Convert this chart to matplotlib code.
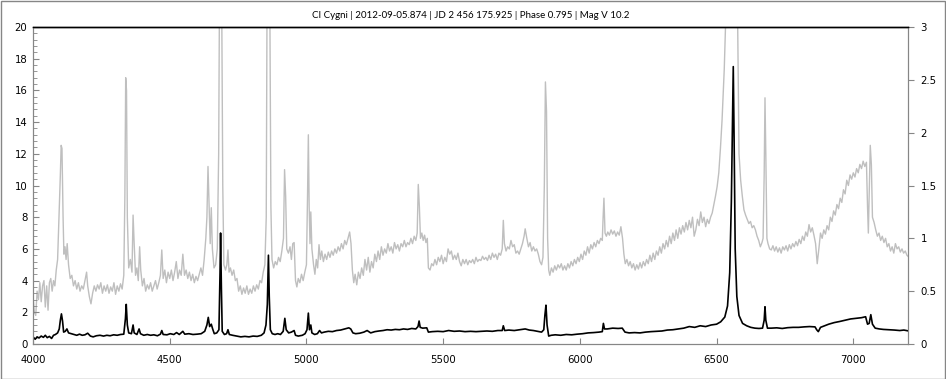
#!/usr/bin/env python3

import matplotlib
matplotlib.use("Agg")
import matplotlib.pyplot as plt
from matplotlib.patches import Rectangle
from matplotlib.ticker import MultipleLocator, FuncFormatter

title = "CI Cygni | 2012-09-05.874 | JD 2 456 175.925 | Phase 0.795 | Mag V 10.2"

# Black spectrum (left axis)
black_wave = [
    4000, 4008, 4015, 4022, 4030, 4038, 4045, 4052, 4060, 4068, 4075, 4082, 4090, 4096,
    4100, 4104, 4108, 4112, 4118, 4124, 4130, 4140, 4150, 4160, 4170, 4180, 4190, 4200,
    4210, 4220, 4232, 4245, 4258, 4270, 4282, 4295, 4308, 4320, 4332, 4338, 4341, 4345,
    4350, 4360, 4366, 4370, 4380, 4388, 4393, 4405, 4418, 4430, 4442, 4455, 4466, 4471,
    4476, 4490, 4502, 4515, 4525, 4535, 4548, 4555, 4570, 4585, 4600, 4615, 4628, 4636,
    4641, 4646, 4652, 4657, 4663, 4672, 4680, 4684, 4686, 4689, 4692, 4700, 4708, 4713,
    4718, 4730, 4745, 4760, 4775, 4790, 4805, 4820, 4835, 4845, 4852, 4857, 4861, 4864,
    4868, 4875, 4885, 4895, 4905, 4915, 4921, 4926, 4935, 4945, 4955, 4960, 4970, 4985,
    4995, 5002, 5007, 5011, 5016, 5020, 5030, 5040, 5048, 5055, 5065, 5080, 5095, 5110,
    5125, 5140, 5155, 5162, 5170, 5180, 5195, 5210, 5222, 5235, 5250, 5265, 5280, 5295,
    5310, 5325, 5340, 5355, 5370, 5385, 5400, 5408, 5412, 5416, 5425, 5440, 5446, 5460,
    5480, 5500, 5520, 5540, 5560, 5580, 5600, 5620, 5640, 5660, 5680, 5700, 5716, 5720,
    5725, 5740, 5760, 5780, 5800, 5815, 5830, 5845, 5860, 5868, 5872, 5876, 5880, 5886,
    5895, 5910, 5930, 5950, 5970, 5990, 6010, 6030, 6050, 6070, 6082, 6086, 6090, 6100,
    6120, 6140, 6155, 6165, 6180, 6200, 6220, 6240, 6260, 6280, 6300, 6320, 6340, 6360,
    6380, 6400, 6420, 6440, 6460, 6480, 6500, 6515, 6530, 6540, 6548, 6554, 6558, 6561,
    6564, 6568, 6574, 6582, 6595, 6610, 6625, 6640, 6655, 6668, 6674, 6677, 6680, 6686,
    6700, 6720, 6740, 6760, 6780, 6800, 6820, 6840, 6860, 6866, 6872, 6880, 6895, 6910,
    6930, 6950, 6970, 6990, 7010, 7030, 7045, 7052, 7058, 7064, 7070, 7080, 7095, 7110,
    7130, 7150, 7170, 7185, 7200,
]
black_flux = [
    0.45, 0.30, 0.45, 0.38, 0.50, 0.42, 0.55, 0.40, 0.48, 0.35, 0.55, 0.60, 0.70, 0.95,
    1.50, 1.90, 1.45, 0.75, 0.80, 0.95, 0.70, 0.65, 0.60, 0.55, 0.62, 0.55, 0.58, 0.68,
    0.50, 0.45, 0.52, 0.55, 0.50, 0.55, 0.52, 0.58, 0.55, 0.60, 0.62, 1.60, 2.50, 1.20,
    0.70, 0.65, 1.20, 0.70, 0.60, 0.95, 0.65, 0.55, 0.60, 0.55, 0.58, 0.52, 0.62, 0.85,
    0.60, 0.58, 0.65, 0.60, 0.72, 0.60, 0.80, 0.62, 0.65, 0.60, 0.62, 0.65, 0.80, 1.20,
    1.68, 1.10, 1.25, 0.95, 0.65, 0.70, 0.90, 4.50, 7.00, 3.50, 0.80, 0.60, 0.65, 0.90,
    0.60, 0.55, 0.50, 0.45, 0.48, 0.45, 0.50, 0.48, 0.55, 0.70, 1.20, 2.50, 5.60, 3.00,
    0.90, 0.65, 0.60, 0.65, 0.60, 0.80, 1.62, 0.90, 0.70, 0.75, 0.85, 0.55, 0.50, 0.55,
    0.65, 0.90, 1.95, 0.90, 1.20, 0.70, 0.60, 0.65, 0.85, 0.70, 0.75, 0.80, 0.78, 0.85,
    0.88, 0.95, 1.02, 0.95, 0.70, 0.65, 0.68, 0.75, 0.85, 0.70, 0.78, 0.82, 0.85, 0.90,
    0.88, 0.92, 0.90, 0.95, 0.92, 0.98, 0.95, 1.10, 1.45, 1.05, 1.00, 1.02, 0.75, 0.78,
    0.80, 0.78, 0.85, 0.80, 0.82, 0.78, 0.80, 0.78, 0.80, 0.82, 0.80, 0.85, 0.85, 1.15,
    0.85, 0.88, 0.85, 0.90, 0.95, 0.88, 0.85, 0.80, 0.75, 0.90, 1.80, 2.45, 1.20, 0.50,
    0.55, 0.58, 0.55, 0.60, 0.58, 0.62, 0.65, 0.70, 0.72, 0.75, 0.78, 1.30, 0.95, 0.95,
    1.00, 0.98, 1.00, 0.75, 0.70, 0.72, 0.70, 0.75, 0.78, 0.80, 0.82, 0.88, 0.90, 0.95,
    1.00, 1.10, 1.05, 1.15, 1.10, 1.20, 1.25, 1.40, 1.70, 2.40, 4.50, 9.00, 14.0, 17.5,
    13.0, 6.00, 3.00, 1.80, 1.30, 1.15, 1.05, 1.00, 0.98, 1.00, 1.50, 2.35, 1.50, 1.00,
    1.00, 1.02, 0.98, 1.03, 1.05, 1.05, 1.08, 1.10, 1.08, 0.90, 0.78, 1.05, 1.15, 1.25,
    1.35, 1.42, 1.50, 1.58, 1.62, 1.66, 1.72, 1.25, 1.30, 1.85, 1.25, 1.00, 0.95, 0.92,
    0.90, 0.88, 0.85, 0.88, 0.83,
]

# Grey spectrum (right axis)
grey_wave = [
    4000, 4005, 4010, 4015, 4020, 4025, 4030, 4035, 4040, 4045, 4050, 4055, 4060, 4065,
    4070, 4075, 4080, 4085, 4090, 4095, 4100, 4103, 4106, 4110, 4113, 4117, 4121, 4125,
    4130, 4136, 4142, 4148, 4154, 4160, 4166, 4172, 4178, 4184, 4190, 4196, 4200, 4206,
    4212, 4218, 4224, 4230, 4236, 4242, 4248, 4254, 4260, 4266, 4272, 4278, 4284, 4290,
    4296, 4302, 4308, 4314, 4320, 4326, 4332, 4336, 4339, 4342, 4345, 4350, 4356, 4362,
    4366, 4370, 4375, 4380, 4385, 4390, 4394, 4400, 4406, 4412, 4418, 4424, 4430, 4436,
    4442, 4448, 4454, 4460, 4466, 4471, 4476, 4482, 4488, 4494, 4500, 4506, 4512, 4518,
    4524, 4530, 4536, 4542, 4548, 4554, 4560, 4566, 4572, 4578, 4584, 4590, 4596, 4602,
    4608, 4614, 4620, 4626, 4632, 4636, 4640, 4644, 4648, 4652, 4656, 4662, 4668, 4674,
    4679, 4682, 4690, 4694, 4698, 4704, 4709, 4713, 4717, 4722, 4728, 4734, 4740, 4746,
    4752, 4758, 4764, 4770, 4776, 4782, 4788, 4794, 4800, 4806, 4812, 4818, 4824, 4830,
    4836, 4842, 4848, 4853, 4856, 4866, 4870, 4874, 4880, 4886, 4892, 4898, 4904, 4910,
    4916, 4920, 4924, 4928, 4934, 4940, 4945, 4950, 4955, 4960, 4965, 4970, 4976, 4982,
    4988, 4994, 5000, 5004, 5007, 5010, 5013, 5016, 5020, 5026, 5031, 5036, 5041, 5046,
    5051, 5056, 5062, 5068, 5074, 5080, 5086, 5092, 5098, 5104, 5110, 5116, 5122, 5128,
    5134, 5140, 5146, 5152, 5158, 5163, 5168, 5173, 5178, 5184, 5190, 5196, 5202, 5208,
    5214, 5220, 5226, 5232, 5238, 5244, 5250, 5256, 5262, 5268, 5274, 5280, 5286, 5292,
    5298, 5304, 5310, 5316, 5322, 5328, 5334, 5340, 5346, 5352, 5358, 5364, 5370, 5376,
    5382, 5388, 5394, 5400, 5405, 5409, 5413, 5417, 5422, 5427, 5432, 5437, 5442, 5446,
    5452, 5458, 5464, 5470, 5476, 5482, 5488, 5494, 5500, 5506, 5512, 5518, 5524, 5530,
    5536, 5542, 5548, 5554, 5560, 5566, 5572, 5578, 5584, 5590, 5596, 5602, 5608, 5614,
    5620, 5626, 5632, 5638, 5644, 5650, 5656, 5662, 5668, 5674, 5680, 5686, 5692, 5698,
    5704, 5710, 5716, 5720, 5724, 5730, 5736, 5742, 5748, 5754, 5760, 5766, 5772, 5778,
    5784, 5790, 5796, 5800, 5806, 5812, 5818, 5824, 5830, 5836, 5842, 5848, 5854, 5860,
    5865, 5870, 5874, 5878, 5882, 5886, 5890, 5896, 5902, 5908, 5914, 5920, 5926, 5932,
    5938, 5944, 5950, 5956, 5962, 5968, 5974, 5980, 5986, 5992, 5998, 6004, 6010, 6016,
    6022, 6028, 6034, 6040, 6046, 6052, 6058, 6064, 6070, 6076, 6082, 6085, 6088, 6092,
    6097, 6102, 6108, 6114, 6120, 6126, 6132, 6138, 6144, 6150, 6156, 6161, 6166, 6172,
    6178, 6184, 6190, 6196, 6202, 6208, 6214, 6220, 6226, 6232, 6238, 6244, 6250, 6256,
    6262, 6268, 6274, 6280, 6286, 6292, 6298, 6304, 6310, 6316, 6322, 6328, 6334, 6340,
    6346, 6352, 6358, 6364, 6370, 6376, 6382, 6388, 6394, 6400, 6406, 6412, 6418, 6424,
    6430, 6436, 6442, 6448, 6454, 6460, 6466, 6472, 6478, 6484, 6490, 6496, 6502, 6508,
    6514, 6520, 6528, 6536, 6576, 6582, 6588, 6594, 6600, 6606, 6612, 6618, 6624, 6630,
    6636, 6642, 6648, 6654, 6660, 6666, 6670, 6674, 6677, 6680, 6684, 6688, 6694, 6700,
    6706, 6712, 6718, 6724, 6730, 6736, 6742, 6748, 6754, 6760, 6766, 6772, 6778, 6784,
    6790, 6796, 6802, 6808, 6814, 6820, 6826, 6832, 6838, 6844, 6850, 6856, 6862, 6868,
    6874, 6880, 6886, 6892, 6898, 6904, 6910, 6916, 6922, 6928, 6934, 6940, 6946, 6952,
    6958, 6964, 6970, 6976, 6982, 6988, 6994, 7000, 7006, 7012, 7018, 7024, 7030, 7036,
    7042, 7048, 7052, 7055, 7058, 7062, 7066, 7070, 7076, 7082, 7088, 7094, 7100, 7106,
    7112, 7118, 7124, 7130, 7136, 7142, 7148, 7154, 7160, 7166, 7172, 7178, 7184, 7190,
    7196, 7200,
]
grey_flux = [
    0.45, 0.30, 0.27, 0.50, 0.42, 0.58, 0.40, 0.55, 0.60, 0.35, 0.55, 0.32, 0.58, 0.62,
    0.50, 0.60, 0.55, 0.70, 0.80, 1.20, 1.60, 1.88, 1.85, 1.20, 0.85, 0.92, 0.80, 0.95,
    0.75, 0.62, 0.65, 0.55, 0.60, 0.52, 0.58, 0.50, 0.55, 0.52, 0.60, 0.68, 0.55, 0.45,
    0.38, 0.48, 0.55, 0.50, 0.56, 0.52, 0.58, 0.48, 0.55, 0.50, 0.56, 0.48, 0.54, 0.50,
    0.58, 0.47, 0.55, 0.50, 0.57, 0.52, 0.65, 1.40, 2.52, 2.40, 1.20, 0.72, 0.80, 0.68,
    1.22, 0.95, 0.65, 0.72, 0.60, 0.92, 0.70, 0.55, 0.62, 0.50, 0.56, 0.52, 0.58, 0.50,
    0.55, 0.60, 0.52, 0.58, 0.65, 0.89, 0.62, 0.70, 0.58, 0.68, 0.62, 0.70, 0.60, 0.68,
    0.78, 0.62, 0.70, 0.65, 0.85, 0.65, 0.70, 0.62, 0.68, 0.60, 0.66, 0.58, 0.64, 0.60,
    0.66, 0.72, 0.65, 0.80, 1.00, 1.20, 1.68, 1.30, 0.95, 1.29, 0.90, 0.72, 0.75, 0.90,
    1.80, 3.30, 3.30, 1.50, 0.75, 0.70, 0.75, 0.89, 0.68, 0.72, 0.65, 0.70, 0.60, 0.62,
    0.50, 0.55, 0.47, 0.53, 0.48, 0.55, 0.47, 0.52, 0.48, 0.55, 0.50, 0.56, 0.52, 0.60,
    0.58, 0.68, 0.75, 1.20, 3.30, 3.30, 1.30, 0.80, 0.72, 0.78, 0.75, 0.82, 0.78, 0.88,
    1.00, 1.65, 1.40, 0.90, 0.86, 0.92, 0.80, 0.95, 0.96, 0.60, 0.54, 0.62, 0.58, 0.66,
    0.60, 0.68, 0.75, 1.40, 1.98, 1.30, 0.95, 1.25, 0.90, 0.75, 0.66, 0.80, 0.72, 0.94,
    0.80, 0.88, 0.78, 0.85, 0.80, 0.87, 0.82, 0.88, 0.84, 0.90, 0.86, 0.92, 0.88, 0.95,
    0.90, 0.98, 0.94, 1.00, 1.06, 0.95, 0.70, 0.58, 0.66, 0.56, 0.68, 0.62, 0.72, 0.65,
    0.80, 0.70, 0.82, 0.68, 0.78, 0.72, 0.85, 0.78, 0.88, 0.80, 0.92, 0.84, 0.90, 0.86,
    0.95, 0.88, 0.92, 0.86, 0.96, 0.90, 0.94, 0.88, 0.95, 0.92, 0.98, 0.92, 0.96, 0.94,
    1.00, 0.95, 1.02, 0.98, 1.05, 1.51, 1.30, 1.00, 1.05, 0.98, 1.03, 0.96, 1.00, 0.72,
    0.70, 0.76, 0.74, 0.80, 0.75, 0.82, 0.78, 0.84, 0.76, 0.82, 0.78, 0.90, 0.85, 0.88,
    0.80, 0.84, 0.80, 0.86, 0.78, 0.74, 0.80, 0.76, 0.80, 0.75, 0.79, 0.77, 0.80, 0.76,
    0.82, 0.78, 0.80, 0.79, 0.83, 0.80, 0.82, 0.79, 0.84, 0.80, 0.86, 0.82, 0.85, 0.80,
    0.86, 0.84, 0.90, 1.17, 0.95, 0.88, 0.92, 0.90, 0.98, 0.92, 0.94, 0.86, 0.88, 0.85,
    0.90, 0.95, 1.02, 1.09, 1.00, 0.92, 0.96, 0.88, 0.92, 0.88, 0.90, 0.85, 0.78, 0.75,
    0.82, 1.50, 2.48, 2.20, 1.00, 0.70, 0.65, 0.72, 0.68, 0.74, 0.70, 0.75, 0.72, 0.76,
    0.70, 0.74, 0.70, 0.76, 0.72, 0.78, 0.74, 0.80, 0.76, 0.82, 0.78, 0.85, 0.80, 0.88,
    0.84, 0.92, 0.86, 0.94, 0.90, 0.96, 0.92, 0.98, 0.95, 1.00, 0.98, 1.20, 1.38, 1.05,
    1.02, 1.06, 1.03, 1.08, 1.04, 1.07, 1.02, 1.06, 1.03, 1.11, 1.00, 0.85, 0.76, 0.80,
    0.74, 0.78, 0.72, 0.76, 0.70, 0.75, 0.71, 0.77, 0.72, 0.78, 0.74, 0.80, 0.76, 0.84,
    0.78, 0.86, 0.80, 0.88, 0.84, 0.92, 0.86, 0.95, 0.90, 0.98, 0.92, 1.02, 0.95, 1.05,
    0.98, 1.08, 1.00, 1.10, 1.04, 1.12, 1.06, 1.15, 1.08, 1.17, 1.10, 1.20, 1.02, 1.08,
    1.18, 1.12, 1.25, 1.15, 1.20, 1.11, 1.18, 1.14, 1.20, 1.24, 1.32, 1.40, 1.49, 1.62,
    1.85, 2.12, 2.60, 3.30, 3.30, 1.80, 1.55, 1.40, 1.27, 1.22, 1.18, 1.14, 1.16, 1.10,
    1.12, 1.08, 1.02, 0.98, 0.92, 0.96, 1.00, 1.60, 2.33, 1.80, 1.00, 0.95, 0.90, 0.89,
    0.93, 0.88, 0.92, 0.87, 0.91, 0.86, 0.92, 0.89, 0.93, 0.88, 0.94, 0.90, 0.95, 0.92,
    0.97, 0.93, 0.99, 0.95, 1.02, 0.98, 1.06, 1.02, 1.13, 1.06, 1.10, 1.03, 0.95, 0.76,
    0.90, 1.05, 1.00, 1.08, 1.04, 1.12, 1.08, 1.20, 1.16, 1.26, 1.22, 1.32, 1.28, 1.38,
    1.34, 1.46, 1.42, 1.55, 1.50, 1.60, 1.56, 1.62, 1.58, 1.66, 1.62, 1.70, 1.66, 1.73,
    1.68, 1.72, 1.30, 1.05, 1.40, 1.88, 1.70, 1.20, 1.15, 1.08, 1.02, 1.05, 0.98, 1.02,
    0.96, 1.00, 0.92, 0.95, 0.88, 0.92, 0.86, 0.95, 0.90, 0.92, 0.87, 0.90, 0.86, 0.88,
    0.84, 0.83,
]

axis_grey = "#868686"

fig = plt.figure(figsize=(9.46, 3.79), dpi=100)
ax = fig.add_axes([33 / 946, 35 / 379, 875 / 946, 317 / 379])
ax2 = ax.twinx()

ax2.plot(grey_wave, grey_flux, color="#BFBFBF", lw=1.0)
ax.plot(black_wave, black_flux, color="black", lw=1.2)

# keep the black line above the grey one
ax.set_zorder(ax2.get_zorder() + 1)
ax.patch.set_visible(False)

ax.set_xlim(4000, 7200)
ax.set_ylim(0, 20)
ax2.set_ylim(0, 3)

ax.xaxis.set_major_locator(MultipleLocator(500))
ax.yaxis.set_major_locator(MultipleLocator(2))
ax.yaxis.set_minor_locator(MultipleLocator(0.4))
ax2.yaxis.set_major_locator(MultipleLocator(0.5))
ax2.yaxis.set_major_formatter(FuncFormatter(lambda v, pos: f"{v:g}"))

for a in (ax, ax2):
    for side in ("left", "right", "bottom"):
        a.spines[side].set_color(axis_grey)
    a.spines["top"].set_color("black")
    a.spines["top"].set_linewidth(1.0)

ax.tick_params(axis="x", direction="in", length=4, color=axis_grey,
               labelsize=7.3, pad=8, top=False)
ax.tick_params(axis="y", which="major", direction="in", length=4, color=axis_grey,
               labelsize=7.3, pad=4)
ax.tick_params(axis="y", which="minor", direction="in", length=3, color=axis_grey)
ax2.tick_params(axis="y", direction="out", length=4, color=axis_grey,
                labelsize=7.3, pad=5)

fig.text(470.5 / 946, 1 - 16 / 379, title, ha="center", va="center",
         fontsize=7, family=["Lato", "DejaVu Sans"])

# outer border of the chart
fig.patches.append(Rectangle((0.5 / 946, 0.5 / 379), 944.5 / 946, 377.5 / 379,
                             transform=fig.transFigure, fill=False,
                             edgecolor=axis_grey, lw=1.0))

fig.savefig("out.png", dpi=100)
